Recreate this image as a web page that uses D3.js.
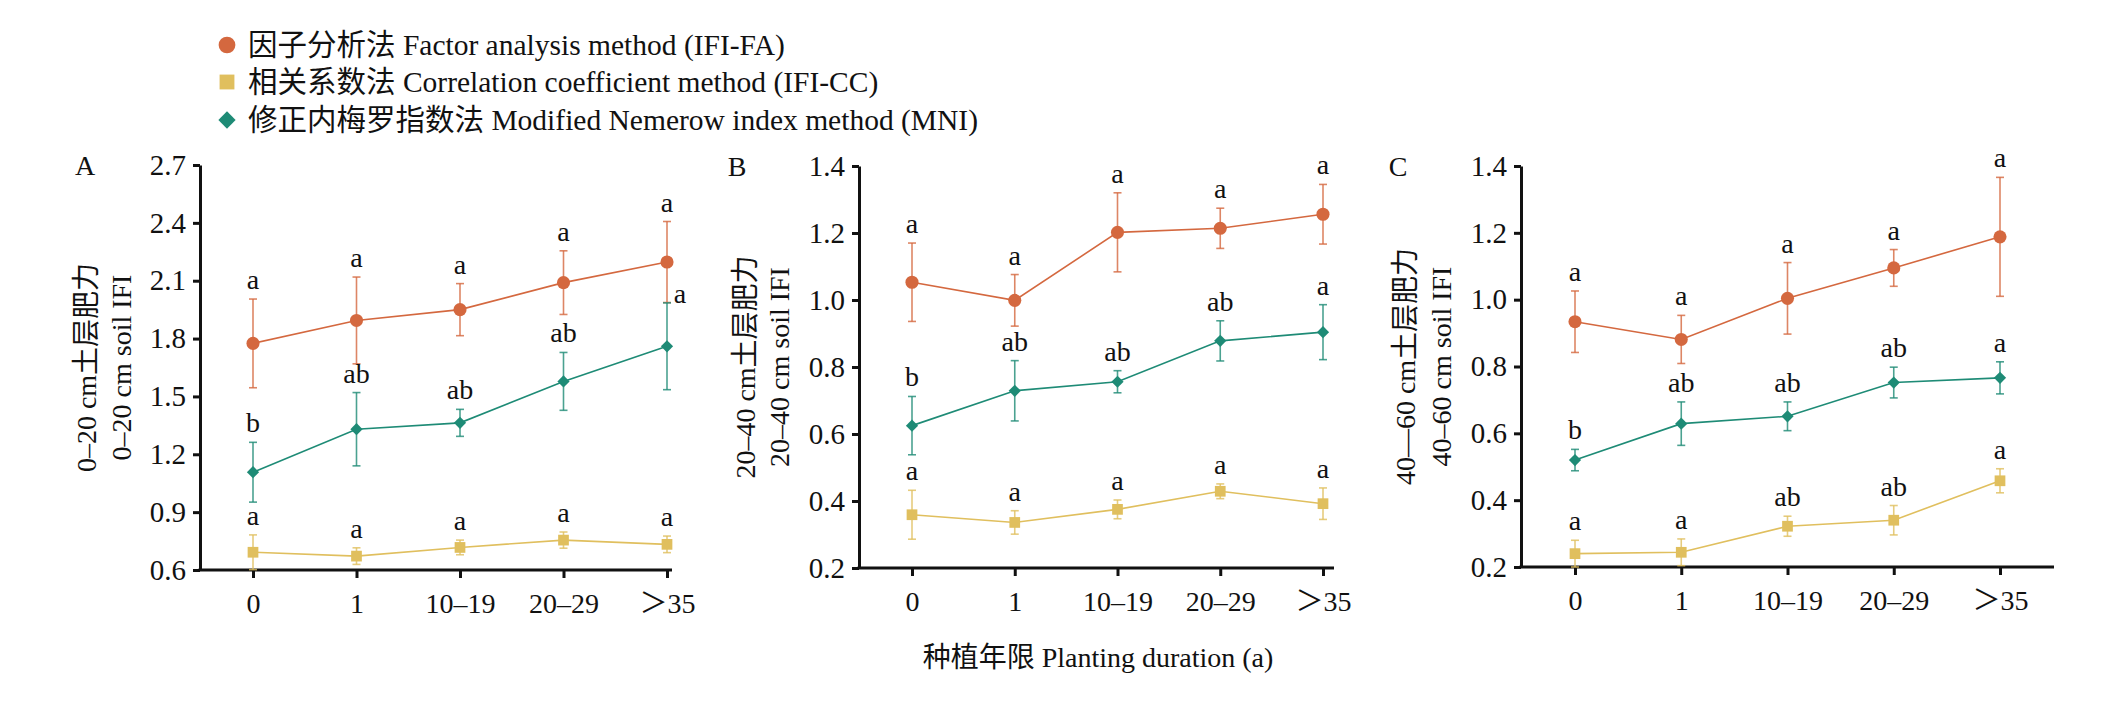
<!DOCTYPE html>
<html>
<head>
<meta charset="utf-8">
<script src="https://cdn.jsdelivr.net/npm/d3@7"></script>
<style>
  body { margin: 0; background: #fff; }
  text { font-family: "Liberation Serif", "Times New Roman", "Noto Sans CJK SC", serif; fill: #111; }
</style>
</head>
<body>
<div id="chart"></div>
<script>
// Categories (planting duration)
const categories = ["0", "1", "10–19", "20–29", "＞35"];

// Series names
const seriesNames = [
    "因子分析法 Factor analysis method (IFI-FA)",
    "相关系数法 Correlation coefficient method (IFI-CC)",
    "修正内梅罗指数法 Modified Nemerow index method (MNI)"
];

// Panel A: 0-20 cm
const faA = [1.775, 1.894, 1.950, 2.090, 2.197];
const faAErr = [0.23, 0.225, 0.135, 0.165, 0.21];
const ccA = [0.692, 0.672, 0.717, 0.755, 0.733];
const ccAErr = [0.09, 0.043, 0.038, 0.042, 0.043];
const mniA = [1.107, 1.330, 1.363, 1.578, 1.760];
const mniAErr = [0.155, 0.19, 0.07, 0.15, 0.225];

// Panel B: 20-40 cm
const faB = [1.053, 0.999, 1.202, 1.214, 1.256];
const faBErr = [0.117, 0.077, 0.118, 0.06, 0.089];
const ccB = [0.359, 0.336, 0.375, 0.429, 0.392];
const ccBErr = [0.073, 0.035, 0.028, 0.022, 0.047];
const mniB = [0.625, 0.729, 0.756, 0.878, 0.904];
const mniBErr = [0.087, 0.09, 0.033, 0.06, 0.082];

// Panel C: 40-60 cm
const faC = [0.934, 0.881, 1.004, 1.095, 1.188];
const faCErr = [0.092, 0.072, 0.107, 0.055, 0.178];
const ccC = [0.240, 0.244, 0.322, 0.340, 0.458];
const ccCErr = [0.04, 0.04, 0.03, 0.044, 0.036];
const mniC = [0.520, 0.629, 0.651, 0.752, 0.766];
const mniCErr = [0.032, 0.065, 0.043, 0.046, 0.048];

// Significance letters
const faLetters = ["a", "a", "a", "a", "a"];
const mniLetters = ["b", "ab", "ab", "ab", "a"];
const ccLettersAB = ["a", "a", "a", "a", "a"];
const ccLettersC = ["a", "a", "ab", "ab", "a"];

// Y tick labels
const ticksA = [0.6, 0.9, 1.2, 1.5, 1.8, 2.1, 2.4, 2.7];
const ticksBC = [0.2, 0.4, 0.6, 0.8, 1.0, 1.2, 1.4];

const colors = { fa: "#D4683F", cc: "#E0BF5E", mni: "#1E8B76" };

const svg = d3.select("#chart").append("svg")
    .attr("width", 2121).attr("height", 705)
    .style("background", "#fff");

const FS = 28;

// Legend
const legend = svg.append("g");
const legendRows = [
    { name: seriesNames[0], key: "fa", shape: d3.symbolCircle, size: 220, y: 45 },
    { name: seriesNames[1], key: "cc", shape: d3.symbolSquare, size: 220, y: 82 },
    { name: seriesNames[2], key: "mni", shape: d3.symbolDiamond2, size: 190, y: 120 }
];
legendRows.forEach(r => {
    legend.append("path")
        .attr("d", d3.symbol().type(r.shape).size(r.size)())
        .attr("transform", `translate(227,${r.y})`)
        .attr("fill", colors[r.key]);
    legend.append("text")
        .attr("x", 248).attr("y", r.y)
        .attr("dominant-baseline", "central")
        .attr("font-size", 29.5)
        .text(r.name);
});

function drawPanel(p) {
    const g = svg.append("g");
    const x = d3.scalePoint().domain(categories).range([p.first, p.last]);
    const y = d3.scaleLinear().domain([p.ticks[0], p.ticks[p.ticks.length - 1]]).range([p.bottom, p.top]);

    // Axes
    const yAxis = g.append("g").attr("transform", `translate(${p.left},0)`)
        .call(d3.axisLeft(y).tickValues(p.ticks).tickFormat(d3.format(".1f")).tickSize(7).tickSizeOuter(0).tickPadding(7));
    yAxis.select(".domain").attr("stroke-width", 3).attr("stroke", "#111");
    yAxis.selectAll(".tick line").attr("stroke-width", 3).attr("stroke", "#111");
    yAxis.selectAll("text").attr("font-size", 29).attr("font-family", "Liberation Serif");

    const xAxis = g.append("g").attr("transform", `translate(0,${p.bottom})`)
        .call(d3.axisBottom(x).tickSize(8).tickSizeOuter(0));
    xAxis.select(".domain").remove();
    xAxis.selectAll(".tick line").attr("stroke-width", 3).attr("stroke", "#111");
    xAxis.selectAll("text").attr("font-size", FS).attr("y", 33).attr("dy", "0.35em")
        .attr("font-family", "Liberation Serif, Noto Sans CJK SC");
    g.append("line")
        .attr("x1", p.left - 1.5).attr("x2", p.end)
        .attr("y1", p.bottom).attr("y2", p.bottom)
        .attr("stroke", "#111").attr("stroke-width", 3);

    // Series
    p.series.forEach(s => {
        const pts = s.values.map((v, i) => ({ cat: categories[i], v: v, e: s.err[i], lab: s.letters[i], i: i }));
        const col = colors[s.key];
        g.append("path").datum(pts)
            .attr("fill", "none").attr("stroke", col).attr("stroke-width", 1.6)
            .attr("d", d3.line().x(d => x(d.cat)).y(d => y(d.v)));

        const eb = g.append("g").attr("stroke", col).attr("stroke-width", 1.6).attr("stroke-opacity", 0.8);
        pts.forEach(d => {
            eb.append("line").attr("x1", x(d.cat)).attr("x2", x(d.cat))
                .attr("y1", y(d.v - d.e)).attr("y2", y(d.v + d.e));
            [d.v - d.e, d.v + d.e].forEach(ev => {
                eb.append("line").attr("x1", x(d.cat) - 4).attr("x2", x(d.cat) + 4)
                    .attr("y1", y(ev)).attr("y2", y(ev));
            });
        });

        g.selectAll(null).data(pts).enter().append("path")
            .attr("d", d3.symbol().type(s.shape).size(s.size)())
            .attr("transform", d => `translate(${x(d.cat)},${y(d.v)})`)
            .attr("fill", col);

        // the last MNI letter in panel A sits beside its bar to clear the FA error bar
        const shifted = d => p.shiftLabel && s.key === "mni" && d.i === 4;
        g.selectAll(null).data(pts).enter().append("text")
            .attr("x", d => x(d.cat) + (shifted(d) ? 13 : 0))
            .attr("y", d => y(d.v + d.e) - (shifted(d) ? 0 : 10))
            .attr("text-anchor", "middle")
            .attr("font-size", FS)
            .text(d => d.lab);
    });

    // Panel letter
    g.append("text").attr("x", p.letterX).attr("y", p.top)
        .attr("dominant-baseline", "central").attr("text-anchor", "middle")
        .attr("font-size", FS).text(p.id);

    // Y titles
    const cy = (p.top + p.bottom) / 2;
    p.titles.forEach((t, k) => {
        g.append("text")
            .attr("transform", `translate(${p.titleX[k]},${cy}) rotate(-90)`)
            .attr("text-anchor", "middle").attr("dominant-baseline", "central")
            .attr("font-size", FS).text(t);
    });
}

drawPanel({
    id: "A", left: 200, first: 253, last: 667, end: 672, top: 165, bottom: 570,
    ticks: ticksA, letterX: 85, titleX: [86, 121], shiftLabel: true,
    titles: ["0–20 cm土层肥力", "0–20 cm soil IFI"],
    series: [
        { key: "fa", values: faA, err: faAErr, letters: faLetters, shape: d3.symbolCircle, size: 135 },
        { key: "mni", values: mniA, err: mniAErr, letters: mniLetters, shape: d3.symbolDiamond2, size: 95 },
        { key: "cc", values: ccA, err: ccAErr, letters: ccLettersAB, shape: d3.symbolSquare, size: 115 }
    ]
});

drawPanel({
    id: "B", left: 859, first: 912, last: 1323, end: 1334, top: 166, bottom: 568,
    ticks: ticksBC, letterX: 737, titleX: [745, 779], shiftLabel: false,
    titles: ["20–40 cm土层肥力", "20–40 cm soil IFI"],
    series: [
        { key: "fa", values: faB, err: faBErr, letters: faLetters, shape: d3.symbolCircle, size: 135 },
        { key: "mni", values: mniB, err: mniBErr, letters: mniLetters, shape: d3.symbolDiamond2, size: 95 },
        { key: "cc", values: ccB, err: ccBErr, letters: ccLettersAB, shape: d3.symbolSquare, size: 115 }
    ]
});

drawPanel({
    id: "C", left: 1521, first: 1575, last: 2000, end: 2054, top: 166, bottom: 567,
    ticks: ticksBC, letterX: 1398, titleX: [1405, 1441], shiftLabel: false,
    titles: ["40—60 cm土层肥力", "40–60 cm soil IFI"],
    series: [
        { key: "fa", values: faC, err: faCErr, letters: faLetters, shape: d3.symbolCircle, size: 135 },
        { key: "mni", values: mniC, err: mniCErr, letters: mniLetters, shape: d3.symbolDiamond2, size: 95 },
        { key: "cc", values: ccC, err: ccCErr, letters: ccLettersC, shape: d3.symbolSquare, size: 115 }
    ]
});

// X axis title
svg.append("text")
    .attr("x", 1098).attr("y", 657)
    .attr("text-anchor", "middle").attr("dominant-baseline", "central")
    .attr("font-size", FS)
    .text("种植年限 Planting duration (a)");
</script>
</body>
</html>
